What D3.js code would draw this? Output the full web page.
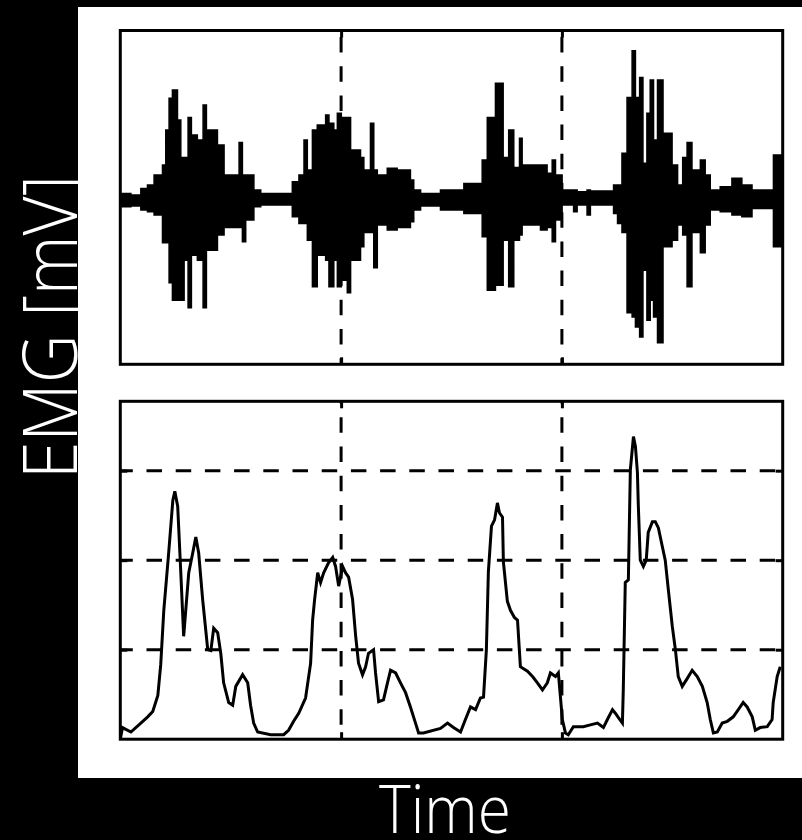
<!DOCTYPE html>
<html>
<head>
<meta charset="utf-8">
<script src="https://cdn.jsdelivr.net/npm/d3@7"></script>
<style>
html, body { margin: 0; padding: 0; background: #000; }
svg { display: block; }
</style>
</head>
<body>
<svg width="802" height="840"></svg>
<script>
// raw EMG, held per sample (step): time [s], upper / lower excursion [mV]
let rawT = [0.000, 0.048, 0.093, 0.123, 0.153, 0.191, 0.206, 0.221, 0.236, 0.259, 0.274, 0.289, 0.307, 0.322, 0.349, 0.375,
    0.390, 0.440, 0.470, 0.538, 0.553, 0.568, 0.605, 0.636, 0.779, 0.809, 0.832, 0.847, 0.870, 0.892, 0.930, 0.945,
    0.967, 0.983, 1.001, 1.028, 1.043, 1.088, 1.103, 1.133, 1.148, 1.164, 1.209, 1.254, 1.314, 1.329, 1.360, 1.450,
    1.556, 1.639, 1.662, 1.699, 1.734, 1.759, 1.782, 1.808, 1.820, 1.903, 1.933, 1.956, 1.971, 2.001, 2.053, 2.069,
    2.114, 2.129, 2.234, 2.252, 2.272, 2.295, 2.318, 2.333, 2.352, 2.367, 2.385, 2.400, 2.415, 2.433, 2.458, 2.499,
    2.524, 2.547, 2.567, 2.589, 2.627, 2.649, 2.672, 2.717, 2.770, 2.815, 2.861, 2.958, 3.000];
let rawHi = [0.08, 0.06, 0.14, 0.18, 0.30, 0.42, 0.84, 1.22, 1.32, 0.96, 0.51, 0.51, 0.99, 0.78, 0.72, 1.14,
    0.84, 0.66, 0.30, 0.69, 0.30, 0.30, 0.12, 0.08, 0.22, 0.30, 0.72, 0.36, 0.84, 0.90, 1.02, 0.92,
    0.84, 1.04, 0.99, 0.99, 0.60, 0.51, 0.36, 0.92, 0.36, 0.30, 0.38, 0.36, 0.24, 0.12, 0.08, 0.12,
    0.20, 0.48, 0.99, 1.40, 0.51, 0.84, 0.39, 0.74, 0.42, 0.42, 0.32, 0.48, 0.30, 0.12, 0.12, 0.10,
    0.12, 0.11, 0.18, 0.18, 0.56, 1.23, 1.79, 1.23, 1.47, 0.44, 1.04, 1.44, 0.72, 1.44, 0.80, 0.42,
    0.18, 0.51, 0.69, 0.36, 0.48, 0.30, 0.12, 0.16, 0.26, 0.18, 0.12, 0.54, 0.54];
let rawLo = [-0.08, -0.07, -0.12, -0.14, -0.18, -0.51, -0.51, -0.99, -1.20, -1.20, -1.20, -0.72, -1.29, -0.66, -0.72, -1.29,
    -0.60, -0.42, -0.33, -0.33, -0.50, -0.24, -0.08, -0.06, -0.20, -0.28, -0.28, -0.48, -1.04, -0.66, -0.72, -1.04,
    -0.72, -1.04, -0.96, -1.11, -0.72, -0.56, -0.39, -0.39, -0.81, -0.30, -0.36, -0.33, -0.26, -0.12, -0.07, -0.12,
    -0.16, -0.44, -1.08, -1.02, -0.48, -1.04, -0.48, -0.42, -0.30, -0.36, -0.33, -0.50, -0.24, -0.06, -0.14, -0.06,
    -0.18, -0.06, -0.16, -0.28, -0.39, -1.35, -1.40, -1.52, -1.64, -0.84, -1.44, -1.20, -1.40, -1.71, -0.56, -0.48,
    -0.30, -0.42, -1.04, -0.39, -0.63, -0.30, -0.12, -0.14, -0.18, -0.20, -0.10, -0.56, -0.56];

// rectified, smoothed EMG
let envT = [0.000, 0.010, 0.048, 0.093, 0.124, 0.147, 0.170, 0.183, 0.197, 0.219, 0.238, 0.247, 0.260, 0.274, 0.287, 0.310,
    0.328, 0.342, 0.355, 0.373, 0.396, 0.410, 0.423, 0.441, 0.455, 0.468, 0.491, 0.509, 0.523, 0.554, 0.577, 0.590,
    0.604, 0.622, 0.681, 0.740, 0.762, 0.785, 0.808, 0.839, 0.862, 0.871, 0.880, 0.894, 0.907, 0.921, 0.943, 0.962,
    0.975, 0.989, 1.007, 1.020, 1.034, 1.052, 1.066, 1.079, 1.097, 1.111, 1.124, 1.147, 1.156, 1.170, 1.192, 1.210,
    1.224, 1.247, 1.269, 1.292, 1.314, 1.337, 1.351, 1.373, 1.450, 1.482, 1.509, 1.541, 1.563, 1.586, 1.609, 1.631,
    1.645, 1.658, 1.667, 1.681, 1.695, 1.708, 1.717, 1.731, 1.735, 1.753, 1.767, 1.785, 1.799, 1.812, 1.844, 1.867,
    1.889, 1.912, 1.934, 1.948, 1.971, 1.984, 1.993, 2.002, 2.016, 2.029, 2.052, 2.097, 2.129, 2.161, 2.188, 2.206,
    2.229, 2.242, 2.256, 2.274, 2.278, 2.287, 2.301, 2.310, 2.324, 2.333, 2.342, 2.346, 2.355, 2.369, 2.382, 2.391,
    2.410, 2.423, 2.437, 2.455, 2.468, 2.482, 2.500, 2.514, 2.527, 2.545, 2.568, 2.590, 2.613, 2.636, 2.658, 2.672,
    2.686, 2.704, 2.726, 2.749, 2.776, 2.799, 2.821, 2.839, 2.862, 2.876, 2.898, 2.930, 2.952, 2.957, 2.975, 2.989];
let envV = [0.00, 0.13, 0.08, 0.18, 0.25, 0.31, 0.49, 0.83, 1.44, 2.08, 2.67, 2.77, 2.60, 1.86, 1.15, 1.86,
    2.08, 2.26, 2.08, 1.56, 1.00, 0.99, 1.24, 1.19, 0.96, 0.63, 0.41, 0.38, 0.59, 0.72, 0.63, 0.38,
    0.18, 0.08, 0.05, 0.05, 0.10, 0.20, 0.29, 0.46, 0.85, 1.33, 1.56, 1.86, 1.75, 1.86, 1.97, 2.03,
    1.93, 1.71, 1.93, 1.86, 1.81, 1.56, 1.15, 0.85, 0.72, 0.81, 0.96, 1.00, 0.74, 0.42, 0.44, 0.63,
    0.77, 0.74, 0.63, 0.52, 0.36, 0.18, 0.07, 0.07, 0.12, 0.18, 0.13, 0.08, 0.22, 0.36, 0.33, 0.46,
    0.47, 1.00, 1.87, 2.38, 2.45, 2.64, 2.53, 2.48, 1.98, 1.54, 1.44, 1.36, 1.33, 0.81, 0.76, 0.70,
    0.63, 0.55, 0.63, 0.74, 0.70, 0.74, 0.48, 0.22, 0.07, 0.05, 0.14, 0.14, 0.16, 0.18, 0.13, 0.22,
    0.33, 0.29, 0.24, 0.18, 0.55, 1.75, 1.78, 3.01, 3.38, 3.27, 2.98, 2.62, 2.00, 1.93, 2.00, 2.31,
    2.43, 2.43, 2.36, 2.15, 2.00, 1.67, 1.26, 1.00, 0.70, 0.59, 0.68, 0.77, 0.70, 0.59, 0.41, 0.22,
    0.07, 0.08, 0.18, 0.20, 0.25, 0.33, 0.41, 0.36, 0.25, 0.10, 0.13, 0.14, 0.22, 0.41, 0.70, 0.81];

let gridTimes = [1, 2];
let gridLevels = [1, 2, 3];
let xLabel = "Time";
let yLabel = "EMG [mV]";

let svg = d3.select("svg");

let left = 120.3, right = 782.7;
let top1 = 30.5, bot1 = 364.3;
let top2 = 401.3, bot2 = 739.2;
let tickLen = 7;
let lineW = 3;
let dashV = "15.5,13.7";

let x = d3.scaleLinear().domain([0, 3]).range([left, right]);
let yRaw = d3.scaleLinear().domain([-1.968, 2.032]).range([bot1, top1]);
let yEnv = d3.scaleLinear().domain([0, 3.775]).range([bot2, top2]);

// y label first, the white sheet hides what runs past its baseline
svg.append("text")
    .attr("transform", "translate(77,327) rotate(-90)")
    .attr("text-anchor", "middle")
    .attr("fill", "#fff")
    .style("font-family", "'Open Sans', 'DejaVu Sans', sans-serif")
    .style("font-weight", 300)
    .style("font-size", "76px")
    .attr("textLength", 304)
    .attr("lengthAdjust", "spacingAndGlyphs")
    .text(yLabel);

// white plotting sheet
svg.append("rect")
    .attr("x", 78).attr("y", 7)
    .attr("width", 724).attr("height", 771)
    .attr("fill", "#fff");

let defs = svg.append("defs");
defs.append("clipPath").attr("id", "clip1")
    .append("rect").attr("x", left).attr("y", top1).attr("width", right - left).attr("height", bot1 - top1);
defs.append("clipPath").attr("id", "clip2")
    .append("rect").attr("x", left).attr("y", top2).attr("width", right - left).attr("height", bot2 - top2);

function vGrid(yTop, yBot, offset){
    svg.append("g").selectAll("line")
        .data(gridTimes)
        .join("line")
        .attr("x1", d => x(d)).attr("x2", d => x(d))
        .attr("y1", yTop).attr("y2", yBot)
        .attr("stroke", "#000")
        .attr("stroke-width", lineW)
        .attr("stroke-dasharray", dashV)
        .attr("stroke-dashoffset", offset);
}
vGrid(top1, bot1, 22.7);
vGrid(top2, bot2, 13.2);

svg.append("g").selectAll("line")
    .data(gridLevels)
    .join("line")
    .attr("x1", left).attr("x2", right)
    .attr("y1", d => yEnv(d)).attr("y2", d => yEnv(d))
    .attr("stroke", "#000")
    .attr("stroke-width", lineW)
    .attr("stroke-dasharray", dashV)
    .attr("stroke-dashoffset", 3);

// raw signal
let raw = rawT.map((t, i) => ({t: t, hi: rawHi[i], lo: rawLo[i]}));
let area = d3.area()
    .x(d => x(d.t))
    .y0(d => yRaw(d.lo))
    .y1(d => yRaw(d.hi))
    .curve(d3.curveStepAfter);
svg.append("path")
    .datum(raw)
    .attr("clip-path", "url(#clip1)")
    .attr("d", area)
    .attr("fill", "#000")
    .attr("stroke", "#000")
    .attr("stroke-width", 1.5);

// envelope
let env = envT.map((t, i) => ({t: t, v: envV[i]}));
let line = d3.line()
    .x(d => x(d.t))
    .y(d => yEnv(d.v));
svg.append("path")
    .datum(env)
    .attr("clip-path", "url(#clip2)")
    .attr("d", line)
    .attr("fill", "none")
    .attr("stroke", "#000")
    .attr("stroke-width", lineW)
    .attr("stroke-linejoin", "miter");

// frames and inward ticks
function frame(yTop, yBot, yScale, yTicks){
    svg.append("rect")
        .attr("x", left).attr("y", yTop)
        .attr("width", right - left).attr("height", yBot - yTop)
        .attr("fill", "none")
        .attr("stroke", "#000")
        .attr("stroke-width", lineW);
    let axes = [
        [d3.axisBottom(x).tickValues(gridTimes), 0, yTop],
        [d3.axisTop(x).tickValues(gridTimes), 0, yBot]
    ];
    if (yTicks.length){
        axes.push([d3.axisRight(yScale).tickValues(yTicks), left, 0]);
        axes.push([d3.axisLeft(yScale).tickValues(yTicks), right, 0]);
    }
    axes.forEach(a => {
        let g = svg.append("g")
            .attr("transform", "translate(" + a[1] + "," + a[2] + ")")
            .call(a[0].tickSize(tickLen).tickFormat(""));
        g.select(".domain").remove();
        g.selectAll(".tick line").attr("stroke", "#000").attr("stroke-width", lineW);
    });
}
frame(top1, bot1, yRaw, []);
frame(top2, bot2, yEnv, gridLevels);

svg.append("text")
    .attr("x", 445).attr("y", 833)
    .attr("text-anchor", "middle")
    .attr("fill", "#fff")
    .style("font-family", "'Open Sans', 'DejaVu Sans', sans-serif")
    .style("font-weight", 300)
    .style("font-size", "67px")
    .attr("textLength", 132)
    .attr("lengthAdjust", "spacingAndGlyphs")
    .text(xLabel);
</script>
</body>
</html>
